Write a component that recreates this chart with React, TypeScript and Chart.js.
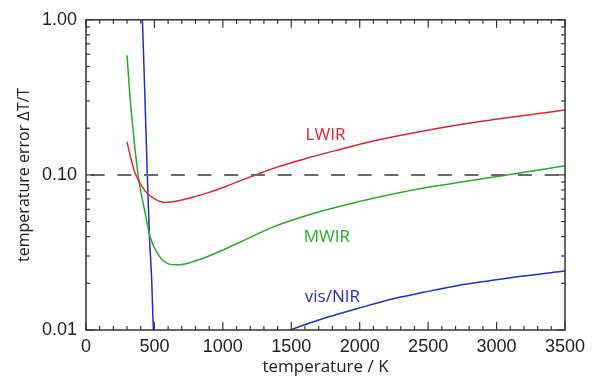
import React, { useEffect, useRef } from "react";
import { Chart, registerables } from "chart.js";

Chart.register(...registerables);

// ---- data ----
const lwirT = [300, 330, 358, 431, 504, 577, 675, 772, 894, 1016, 1138, 1235, 1369, 1613, 1856, 2124, 2440, 2855, 3500];
const lwirErr = [0.163, 0.126, 0.103, 0.0789, 0.0698, 0.0665, 0.0681, 0.0715, 0.0769, 0.0839, 0.0925, 0.0995, 0.1102, 0.128, 0.146, 0.1675, 0.19, 0.219, 0.262];

const mwirT = [300, 315, 334, 382, 431, 468, 529, 602, 675, 772, 894, 1016, 1138, 1235, 1369, 1613, 1856, 2124, 2440, 3098, 3500];
const mwirErr = [0.59, 0.38, 0.24, 0.098, 0.0575, 0.0399, 0.0305, 0.0267, 0.0263, 0.0274, 0.0299, 0.0333, 0.0373, 0.0409, 0.0462, 0.0547, 0.0627, 0.0714, 0.0813, 0.1005, 0.1145];

const visT = [408, 430, 448, 463, 480, 495, 1000, 1400, 1491, 1734, 1978, 2221, 2465, 2708, 2952, 3195, 3500];
const visErr = [1.3, 0.33, 0.1, 0.041, 0.021, 0.0083, null, 0.0093, 0.01, 0.01186, 0.0137, 0.01574, 0.0175, 0.0193, 0.0208, 0.0223, 0.024];

const thresholdT = [0, 3500];
const thresholdErr = [0.1, 0.1];

const xTickStep = 500;
const yTickValues = [0.01, 0.1, 1];
const seriesNames = ["LWIR", "MWIR", "vis/NIR"];

const toPts = (xs: number[], ys: (number | null)[]) => xs.map((x, i) => ({ x, y: ys[i] }));

const TICK_FONT = "'Liberation Sans', Arial, sans-serif";
const TITLE_FONT = "'Open Sans', 'Liberation Sans', sans-serif";

const framePlugin = {
  id: "frame",
  afterDraw(chart: any) {
    const { ctx, chartArea, scales } = chart;
    const { left, right, top, bottom } = chartArea;
    const x = scales.x;
    const y = scales.y;
    ctx.save();
    ctx.strokeStyle = "#333";
    ctx.lineWidth = 1.5;
    ctx.strokeRect(left, top, right - left, bottom - top);
    ctx.lineWidth = 1.2;
    const seg = (x1: number, y1: number, x2: number, y2: number) => {
      ctx.beginPath();
      ctx.moveTo(x1, y1);
      ctx.lineTo(x2, y2);
      ctx.stroke();
    };
    for (let t = 0; t <= 3500; t += 100) {
      const px = x.getPixelForValue(t);
      const len = t % 500 === 0 ? 8 : 4;
      seg(px, bottom, px, bottom - len);
      seg(px, top, px, top + len);
    }
    for (const d of [0.01, 0.1, 1]) {
      for (let m = 1; m <= 9; m++) {
        const v = d * m;
        if (v > 1.0001) break;
        const py = y.getPixelForValue(v);
        const len = m === 1 ? 8 : 4;
        seg(left, py, left + len, py);
        seg(right, py, right - len, py);
      }
    }
    // series labels
    ctx.font = "17px " + TITLE_FONT;
    ctx.textAlign = "center";
    ctx.textBaseline = "middle";
    const labelAt: [number, number, string][] = [
      [1750, 0.181, "#e0262e"],
      [1760, 0.0394, "#22b022"],
      [1800, 0.0164, "#2a2ac8"],
    ];
    labelAt.forEach(([lx, ly, c], i) => {
      ctx.fillStyle = c;
      ctx.fillText(seriesNames[i], x.getPixelForValue(lx), y.getPixelForValue(ly));
    });
    ctx.restore();
  },
};

export default function App() {
  const ref = useRef<HTMLCanvasElement | null>(null);
  useEffect(() => {
    if (!ref.current) return;
    const chart = new Chart(ref.current, {
      type: "line",
      data: {
        datasets: [
          {
            label: "threshold",
            data: toPts(thresholdT, thresholdErr),
            borderColor: "#6a6a6a",
            borderWidth: 2,
            borderDash: [14, 12.7],
            borderDashOffset: 22,
            pointRadius: 0,
          },
          {
            label: seriesNames[0],
            data: toPts(lwirT, lwirErr),
            borderColor: "#e0262e",
            borderWidth: 1.5,
            pointRadius: 0,
            cubicInterpolationMode: "monotone",
          },
          {
            label: seriesNames[1],
            data: toPts(mwirT, mwirErr),
            borderColor: "#22b022",
            borderWidth: 1.5,
            pointRadius: 0,
            cubicInterpolationMode: "monotone",
          },
          {
            label: seriesNames[2],
            data: toPts(visT, visErr),
            borderColor: "#2a2ac8",
            borderWidth: 1.5,
            pointRadius: 0,
            spanGaps: false,
            cubicInterpolationMode: "monotone",
          },
        ],
      },
      options: {
        animation: false,
        responsive: false,
        devicePixelRatio: 1,
        layout: { padding: { left: 0, top: 14, right: 38, bottom: 0 } },
        plugins: { legend: { display: false }, tooltip: { enabled: false } },
        scales: {
          x: {
            type: "linear",
            min: 0,
            max: 3500,
            grid: { display: false, drawTicks: false },
            border: { display: false },
            ticks: {
              stepSize: xTickStep,
              padding: 6,
              color: "#222",
              font: { family: TICK_FONT, size: 18 },
              maxRotation: 0,
              callback: (v: any) => String(v),
            },
            title: {
              display: true,
              text: "temperature / K",
              color: "#222",
              font: { family: TITLE_FONT, size: 17 },
              padding: { top: 0, bottom: 8 },
            },
            afterFit(scale: any) {
              scale.height = 55;
            },
          },
          y: {
            type: "logarithmic",
            min: 0.01,
            max: 1,
            grid: { display: false, drawTicks: false },
            border: { display: false },
            afterBuildTicks(scale: any) {
              scale.ticks = yTickValues.map((v) => ({ value: v }));
            },
            ticks: {
              padding: 9,
              color: "#222",
              font: { family: TICK_FONT, size: 18 },
              callback: (v: any) => Number(v).toFixed(2),
            },
            title: {
              display: true,
              text: "temperature error ΔT/T",
              color: "#222",
              font: { family: TITLE_FONT, size: 16 },
              padding: { top: 15, bottom: 0 },
            },
            afterFit(scale: any) {
              scale.width = 86;
            },
          },
        },
      },
      plugins: [framePlugin],
    } as any);
    return () => chart.destroy();
  }, []);
  return (
    <div style={{ position: "absolute", left: 0, top: 0, width: 603, height: 385, background: "#fff" }}>
      <canvas ref={ref} width={603} height={385} />
    </div>
  );
}
